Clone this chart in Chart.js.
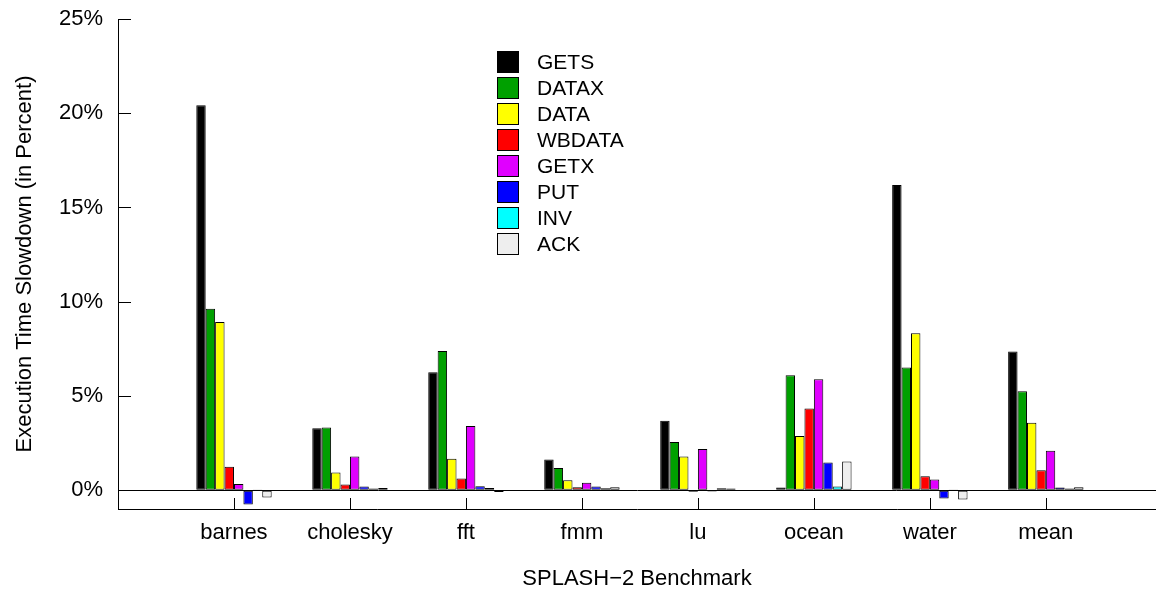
<!DOCTYPE html>
<html>
<head>
<meta charset="utf-8">
<script src="https://cdn.jsdelivr.net/npm/chart.js@4.4.0/dist/chart.umd.min.js"></script>
<style>
  html, body { margin: 0; padding: 0; background: #fff; }
  #wrap { width: 1156px; height: 596px; }
</style>
</head>
<body>
<div id="wrap"><canvas id="slowChart" width="1156" height="596"></canvas></div>
<script>
const benchmarks = ["barnes", "cholesky", "fft", "fmm", "lu", "ocean", "water", "mean"];
const seriesNames = ["GETS", "DATAX", "DATA", "WBDATA", "GETX", "PUT", "INV", "ACK"];
const seriesColors = ["#000000", "#00a000", "#ffff00", "#ff0000", "#e000ff", "#0000ff", "#00ffff", "#eeeeee"];
const yTicks = [0, 5, 10, 15, 20, 25];

// slowdown in percent, one array per message type (same order as benchmarks)
const gets     = [20.43, 3.29, 6.26, 1.63, 3.68, 0.14, 16.19, 7.36];
const datax    = [9.62, 3.33, 7.39, 1.18, 2.55, 6.10, 6.51, 5.25];
const dataVals = [8.92, 0.94, 1.66, 0.52, 1.79, 2.87, 8.32, 3.57];
const wbdata   = [1.24, 0.30, 0.62, 0.16, -0.08, 4.33, 0.74, 1.06];
const getx     = [0.32, 1.79, 3.41, 0.39, 2.19, 5.89, 0.57, 2.09];
const put      = [-0.76, 0.19, 0.21, 0.20, -0.07, 1.47, -0.44, 0.14];
const inv      = [0.04, 0.09, 0.12, 0.10, 0.10, 0.19, 0.03, 0.09];
const ack      = [-0.39, 0.12, -0.10, 0.16, 0.09, 1.52, -0.50, 0.16];

const allSeries = [gets, datax, dataVals, wbdata, getx, put, inv, ack];

Chart.defaults.font.family = '"Liberation Sans", Arial, Helvetica, sans-serif';
Chart.defaults.color = "#000";

// tick marks drawn on the inside of the axes, like the original plot
const innerTicks = {
  id: "innerTicks",
  afterDatasetsDraw(chart) {
    const { ctx, chartArea, scales } = chart;
    ctx.save();
    ctx.strokeStyle = "#000";
    ctx.lineWidth = 1;
    ctx.beginPath();
    scales.y.ticks.forEach(t => {
      const py = Math.round(scales.y.getPixelForValue(t.value)) + 0.5;
      ctx.moveTo(chartArea.left, py);
      ctx.lineTo(chartArea.left + 13, py);
    });
    scales.x.ticks.forEach(t => {
      const px = Math.round(scales.x.getPixelForValue(t.value)) + 0.5;
      ctx.moveTo(px, chartArea.bottom);
      ctx.lineTo(px, chartArea.bottom - 11);
    });
    ctx.stroke();
    ctx.restore();
  }
};

// vertical legend inside the plot
const boxLegend = {
  id: "boxLegend",
  afterDraw(chart) {
    const ctx = chart.ctx;
    ctx.save();
    ctx.font = '21px "Liberation Sans", Arial, sans-serif';
    ctx.textBaseline = "middle";
    chart.data.datasets.forEach((ds, i) => {
      const y = 62 + i * 26;
      ctx.fillStyle = ds.backgroundColor;
      ctx.fillRect(497, y - 11, 22, 22);
      ctx.strokeStyle = "#000";
      ctx.lineWidth = 1;
      ctx.strokeRect(497.5, y - 10.5, 21, 21);
      ctx.fillStyle = "#000";
      ctx.fillText(ds.label, 537, y + 1);
    });
    ctx.restore();
  }
};

const ctx = document.getElementById("slowChart").getContext("2d");
new Chart(ctx, {
  type: "bar",
  data: {
    datasets: seriesNames.map((name, s) => ({
      label: name,
      data: allSeries[s].map((v, i) => ({ x: i, y: v })),
      backgroundColor: seriesColors[s],
      borderColor: "#000",
      borderWidth: 1,
      borderSkipped: false,
      categoryPercentage: 0.65,
      barPercentage: 1.0
    }))
  },
  options: {
    responsive: false,
    animation: false,
    devicePixelRatio: 1,
    layout: { padding: { top: 19, right: 0, bottom: 0, left: 0 } },
    plugins: {
      legend: { display: false },
      tooltip: { enabled: false }
    },
    scales: {
      x: {
        type: "linear",
        min: -1,
        max: 7.95,
        offset: false,
        grid: { display: false, offset: false },
        border: { display: true, color: "#000", width: 1 },
        afterBuildTicks: scale => {
          scale.ticks = benchmarks.map((b, i) => ({ value: i }));
        },
        afterFit: scale => { scale.height = 87; },
        ticks: {
          autoSkip: false,
          maxRotation: 0,
          padding: 3,
          font: { size: 22 },
          callback: value => benchmarks[value]
        },
        title: {
          display: true,
          text: "SPLASH\u22122 Benchmark",
          font: { size: 22 },
          padding: { top: 0, bottom: 4 }
        }
      },
      y: {
        min: -1,
        max: 25,
        grid: {
          drawTicks: false,
          color: c => (c.tick && c.tick.value === 0 ? "#000" : "rgba(0,0,0,0)")
        },
        border: { display: true, color: "#000", width: 1 },
        afterBuildTicks: scale => {
          scale.ticks = yTicks.map(v => ({ value: v }));
        },
        afterFit: scale => {
          scale.width = 118;
          scale.paddingTop = 0;
          scale.paddingBottom = 0;
        },
        ticks: {
          padding: 15,
          font: { size: 22 },
          callback: v => v + "%"
        },
        title: {
          display: true,
          text: "Execution Time Slowdown (in Percent)",
          font: { size: 22 },
          padding: { top: 12, bottom: 0 }
        }
      }
    }
  },
  plugins: [innerTicks, boxLegend]
});
</script>
</body>
</html>
